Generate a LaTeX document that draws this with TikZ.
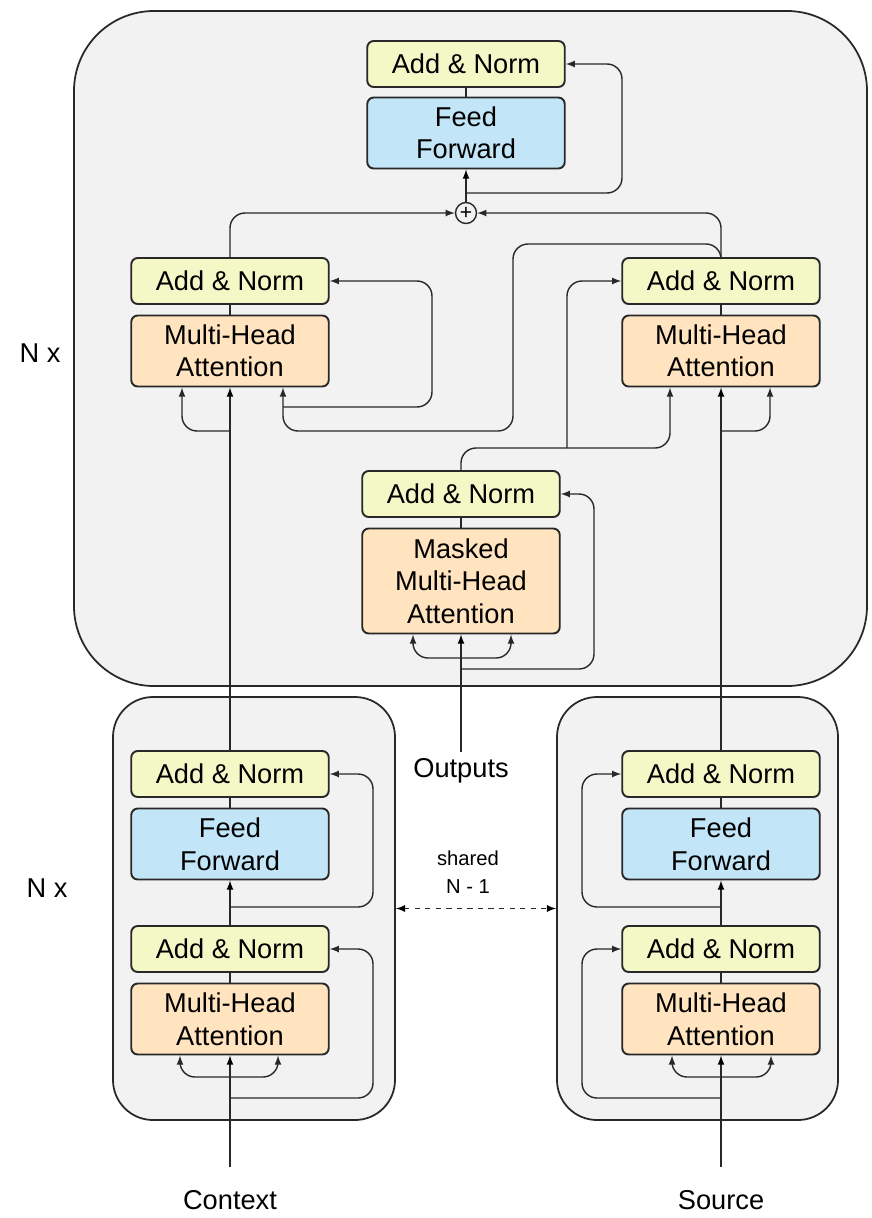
\documentclass[tikz,border=0pt]{standalone}
\usepackage{fontspec}
\setmainfont{Liberation Sans}
\usetikzlibrary{calc}

\definecolor{normyellow}{RGB}{244,247,198}
\definecolor{ffblue}{RGB}{194,230,247}
\definecolor{attnorange}{RGB}{255,228,191}
\definecolor{panelgray}{RGB}{242,242,242}
\definecolor{linegray}{RGB}{40,40,40}

\begin{document}
\begin{tikzpicture}[x=0.2mm, y=-0.2mm, font=\fontsize{15.5}{18.5}\selectfont]

      \tikzset{block/.style={draw=linegray, line width=1.1pt, rounded corners=1.3mm, align=center, minimum width=39.5mm, inner sep=0pt},
               addnorm/.style={block, fill=normyellow, minimum height=9.2mm},
               feedfwd/.style={block, fill=ffblue, minimum height=14.2mm},
               attn/.style={block, fill=attnorange, minimum height=14.2mm},
               panel/.style={draw=linegray, line width=1pt, fill=panelgray, inner sep=0pt},
               wire/.style={thick, draw=linegray, rounded corners=3mm}}

      \useasboundingbox (0,0) rectangle (871,1218);
%% Panels
      	\node[panel, rounded corners=16mm, minimum width=158.6mm, minimum height=135mm] (dec) at (470.5,348.5) {};
      	\node[panel, rounded corners=8mm, minimum width=56.4mm, minimum height=84.6mm] (encL) at (254,908.5) {};
      	\node[panel, rounded corners=8mm, minimum width=56.2mm, minimum height=84.6mm] (encR) at (697.5,908.5) {};
%% Decoder blocks
      	\node[addnorm] (decAN3) at (466,64) {Add \& Norm};
      	\node[feedfwd] (decFF) at (466,133) {Feed\\Forward};
      	\node[draw=linegray, thick, circle, fill=panelgray, inner sep=0pt, minimum size=4.2mm, font=\fontsize{12}{12}\selectfont] (plus) at (466,213) {+};
      	\node[addnorm] (decANL) at (230,281) {Add \& Norm};
      	\node[attn] (decMHAL) at (230,351) {Multi-Head\\Attention};
      	\node[addnorm] (decANR) at (721,281) {Add \& Norm};
      	\node[attn] (decMHAR) at (721,351) {Multi-Head\\Attention};
      	\node[addnorm] (decANM) at (461,494) {Add \& Norm};
      	\node[attn, minimum height=21mm] (maskMHA) at (461,581) {Masked\\Multi-Head\\Attention};
%% Encoder blocks
      	\node[addnorm] (ctxAN2) at (230,774) {Add \& Norm};
      	\node[feedfwd] (ctxFF) at (230,844) {Feed\\Forward};
      	\node[addnorm] (ctxAN1) at (230,949) {Add \& Norm};
      	\node[attn] (ctxMHA) at (230,1019) {Multi-Head\\Attention};
      	\node[addnorm] (srcAN2) at (721,774) {Add \& Norm};
      	\node[feedfwd] (srcFF) at (721,844) {Feed\\Forward};
      	\node[addnorm] (srcAN1) at (721,949) {Add \& Norm};
      	\node[attn] (srcMHA) at (721,1019) {Multi-Head\\Attention};
%% Labels
      	\node (nxTop) at (40,353) {N x};
      	\node (nxBot) at (47,888) {N x};
      	\node (outputs) at (461,771) {Outputs};
      	\node[align=center, font=\fontsize{11.5}{16}\selectfont] (shared) at (468,872) {shared\\N - 1};
      	\node[inner ysep=4.6mm] (context) at (230,1200) {Context};
      	\node[inner ysep=4.6mm] (source) at (721,1200) {Source};
%Edges
		\path [->, >=latex, wire](plus) edge (decFF);
		\draw [wire](decFF) -- (decAN3);
		\draw [->, >=latex, wire](466,193) -- (622,193) |- (decAN3);
		\draw [->, >=latex, wire](decANL) |- (plus);
		\draw [->, >=latex, wire](decANR) |- (plus);
		\draw [wire](decMHAL) -- (decANL);
		\draw [wire](decMHAR) -- (decANR);
		\draw [wire](maskMHA) -- (decANM);
		% right output into left attention
		\draw [->, >=latex, wire](decANR.north) -- (721,244) -- (513,244) -- (513,431) -- (283,431) -- ($(decMHAL.south)+(53,0)$);
		\draw [->, >=latex, wire](283,407) -- (432,407) |- (decANL);
		\path [->, >=latex, wire](ctxAN2) edge (decMHAL);
		\draw [->, >=latex, wire](230,431) -| ($(decMHAL.south)+(-48,0)$);
		% masked output into right attention
		\path [->, >=latex, wire](srcAN2) edge (decMHAR);
		\draw [->, >=latex, wire](721,431) -| ($(decMHAR.south)+(49,0)$);
		\draw [->, >=latex, wire](decANM.north) -- (461,448) -- (670,448) -- ($(decMHAR.south)+(-51,0)$);
		\draw [->, >=latex, wire](567,448) |- (decANR);
		% masked attention inputs
		\path [->, >=latex, wire](outputs) edge (maskMHA);
		\draw [<->, >=latex, wire]($(maskMHA.south)+(-48,0)$) |- (461,658) -| ($(maskMHA.south)+(50,0)$);
		\draw [->, >=latex, wire](461,669) -- (594,669) |- (decANM);
		% context encoder
		\path [->, >=latex, wire](context) edge (ctxMHA);
		\draw [<->, >=latex, wire]($(ctxMHA.south)+(-50,0)$) |- (230,1077) -| ($(ctxMHA.south)+(48,0)$);
		\draw [->, >=latex, wire](230,1098) -- (373,1098) |- (ctxAN1);
		\draw [wire](ctxMHA) -- (ctxAN1);
		\path [->, >=latex, wire](ctxAN1) edge (ctxFF);
		\draw [->, >=latex, wire](230,907) -- (373,907) |- (ctxAN2);
		\draw [wire](ctxFF) -- (ctxAN2);
		% source encoder
		\path [->, >=latex, wire](source) edge (srcMHA);
		\draw [<->, >=latex, wire]($(srcMHA.south)+(-49,0)$) |- (721,1077) -| ($(srcMHA.south)+(50,0)$);
		\draw [->, >=latex, wire](721,1098) -- (582,1098) |- (srcAN1);
		\draw [wire](srcMHA) -- (srcAN1);
		\path [->, >=latex, wire](srcAN1) edge (srcFF);
		\draw [->, >=latex, wire](721,907) -- (582,907) |- (srcAN2);
		\draw [wire](srcFF) -- (srcAN2);
		% shared layers
		\path [<->, >=latex, thick, dashed, draw=linegray](encL) edge (encR);

	\end{tikzpicture}
\end{document}
